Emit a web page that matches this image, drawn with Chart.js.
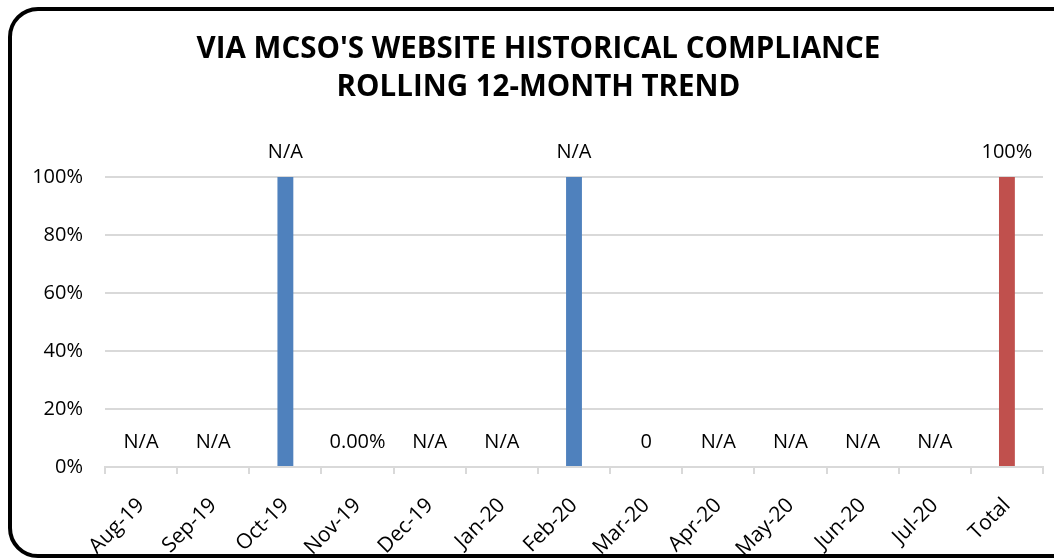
<!DOCTYPE html>
<html>
<head>
<meta charset="utf-8">
<script src="https://cdn.jsdelivr.net/npm/chart.js@4"></script>
<style>
  html, body { margin: 0; padding: 0; background: #fff; }
  #wrap { position: relative; width: 1054px; height: 558px; overflow: hidden; }
  #frame {
    position: absolute; left: 8px; top: 7px; width: 1100px; height: 543px;
    border: 4px solid #000; border-radius: 30px; pointer-events: none;
  }
</style>
</head>
<body>
<div id="wrap">
  <canvas id="complianceChart"></canvas>
  <div id="frame"></div>
</div>
<script>
const months = ["Aug-19", "Sep-19", "Oct-19", "Nov-19", "Dec-19", "Jan-20", "Feb-20",
                "Mar-20", "Apr-20", "May-20", "Jun-20", "Jul-20", "Total"];
const compliance = [0, 0, 100, 0, 0, 0, 100, 0, 0, 0, 0, 0, 100];
const pointLabels = ["N/A", "N/A", "N/A", "0.00%", "N/A", "N/A", "N/A", "0", "N/A", "N/A", "N/A", "N/A", "100%"];
const yTicks = [0, 20, 40, 60, 80, 100];

const FONT = "'Open Sans', sans-serif";

// labels above each bar, like the Excel data labels
const barLabels = {
    id: "barLabels",
    afterDatasetsDraw(chart) {
        const ctx = chart.ctx;
        const meta = chart.getDatasetMeta(0);
        ctx.save();
        ctx.font = "20px " + FONT;
        ctx.fillStyle = "#000";
        ctx.textAlign = "center";
        ctx.textBaseline = "middle";
        meta.data.forEach((bar, i) => {
            ctx.fillText(pointLabels[i], bar.x, bar.y - 25);
        });
        ctx.restore();
    }
};

new Chart(document.getElementById("complianceChart"), {
    type: "bar",
    data: {
        labels: months,
        datasets: [{
            data: compliance,
            backgroundColor: months.map(m => m === "Total" ? "#c0504d" : "#4f81bd"),
            barPercentage: 0.22,
            categoryPercentage: 1
        }]
    },
    options: {
        responsive: true,
        maintainAspectRatio: false,
        animation: false,
        layout: { padding: { left: 34, right: 11, top: 0, bottom: 0 } },
        plugins: {
            legend: { display: false },
            tooltip: { enabled: false },
            title: {
                display: true,
                text: ["VIA MCSO'S WEBSITE HISTORICAL COMPLIANCE", "ROLLING 12-MONTH TREND"],
                color: "#000",
                font: { family: FONT, size: 29.5, weight: "bold", lineHeight: 1.29 },
                padding: { top: 31, bottom: 70 }
            }
        },
        scales: {
            x: {
                grid: { offset: true, drawOnChartArea: false, drawTicks: true, tickLength: 7, color: "#d9d9d9", lineWidth: 2 },
                border: { color: "#d9d9d9", width: 2 },
                ticks: {
                    color: "#000",
                    font: { family: FONT, size: 21 },
                    minRotation: 45,
                    maxRotation: 45,
                    padding: 19
                },
                afterFit(scale) { scale.height = 91; }
            },
            y: {
                min: 0,
                max: 100,
                afterBuildTicks(scale) { scale.ticks = yTicks.map(v => ({ value: v })); },
                grid: { color: "#d9d9d9", lineWidth: 2, drawTicks: false },
                border: { display: false },
                ticks: {
                    color: "#000",
                    font: { family: FONT, size: 20 },
                    padding: 22,
                    callback: v => v + "%"
                },
                afterFit(scale) { scale.width = 71; }
            }
        }
    },
    plugins: [barLabels]
});
</script>
</body>
</html>
